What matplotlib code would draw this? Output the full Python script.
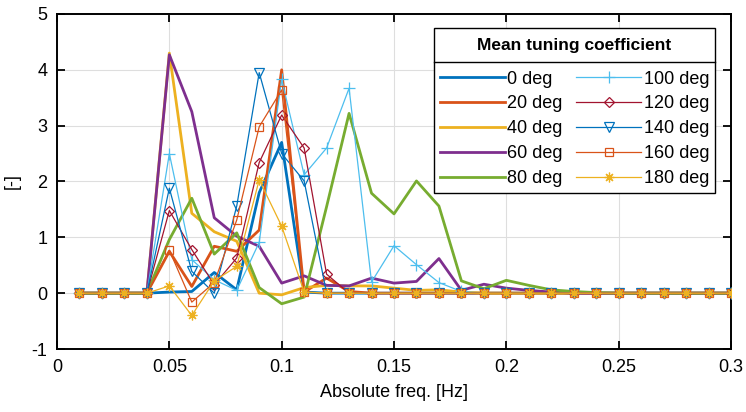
import matplotlib
matplotlib.use("Agg")
import matplotlib.pyplot as plt
from matplotlib.lines import Line2D
from matplotlib.offsetbox import PaddedBox
import numpy as np

plt.rcParams['font.family'] = ['Liberation Sans', 'DejaVu Sans']
plt.rcParams['axes.unicode_minus'] = False

freq = [0.01, 0.02, 0.03, 0.04, 0.05, 0.06, 0.07, 0.08, 0.09, 0.10,
        0.11, 0.12, 0.13, 0.14, 0.15, 0.16, 0.17, 0.18, 0.19, 0.20,
        0.21, 0.22, 0.23, 0.24, 0.25, 0.26, 0.27, 0.28, 0.29, 0.30]

labels = ['0 deg', '20 deg', '40 deg', '60 deg', '80 deg',
          '100 deg', '120 deg', '140 deg', '160 deg', '180 deg']

deg0   = [0, 0, 0, 0, 0.02, 0.03, 0.37, 0.06, 1.80, 2.70,
          0.02, 0, 0, 0, 0, 0, 0, 0, 0, 0, 0, 0, 0, 0, 0, 0, 0, 0, 0, 0]
deg20  = [0, 0, 0, 0, 0.75, 0.12, 0.84, 0.75, 1.13, 4.00,
          0.02, 0.27, 0.03, 0, 0, 0, 0, 0, 0, 0, 0, 0, 0, 0, 0, 0, 0, 0, 0, 0]
deg40  = [0, 0, 0, 0, 4.30, 1.43, 1.10, 0.93, 0.00, -0.03,
          0.10, 0.14, 0.13, 0.13, 0.09, 0.05, 0.06, 0.02, 0, 0, 0, 0, 0, 0, 0, 0, 0, 0, 0, 0]
deg60  = [0, 0, 0, 0, 4.27, 3.25, 1.35, 1.02, 0.84, 0.18,
          0.31, 0.14, 0.13, 0.27, 0.18, 0.21, 0.62, 0.05, 0.16, 0.09,
          0.05, 0.02, 0, 0, 0, 0, 0, 0, 0, 0]
deg80  = [0, 0, 0, 0, 0.96, 1.70, 0.70, 1.08, 0.10, -0.19,
          -0.07, 1.55, 3.22, 1.79, 1.42, 2.01, 1.56, 0.22, 0.08, 0.23,
          0.14, 0.06, 0.03, 0.01, 0, 0, 0, 0, 0, 0]
deg100 = [0, 0, 0, 0, 2.50, 0.60, 0.24, 0.05, 0.91, 3.83,
          2.12, 2.60, 3.67, 0.20, 0.85, 0.51, 0.19, 0.03, 0, 0, 0, 0, 0, 0, 0, 0, 0, 0, 0, 0]
deg120 = [0, 0, 0, 0, 1.48, 0.78, 0.15, 0.63, 2.34, 3.19,
          2.60, 0.34, 0.00, 0, 0, 0, 0, 0, 0, 0, 0, 0, 0, 0, 0, 0, 0, 0, 0, 0]
deg140 = [0, 0, 0, 0, 1.88, 0.39, 0.00, 1.56, 3.95, 2.50,
          2.01, 0.00, 0, 0, 0, 0, 0, 0, 0, 0, 0, 0, 0, 0, 0, 0, 0, 0, 0, 0]
deg160 = [0, 0, 0, 0, 0.77, -0.16, 0.19, 1.31, 2.98, 3.64,
          0.02, 0, 0, 0, 0, 0, 0, 0, 0, 0, 0, 0, 0, 0, 0, 0, 0, 0, 0, 0]
deg180 = [0, 0, 0, 0, 0.13, -0.40, 0.22, 0.48, 2.03, 1.20,
          0.02, 0, 0, 0, 0, 0, 0, 0, 0, 0, 0, 0, 0, 0, 0, 0, 0, 0, 0, 0]

xtick_vals = [0, 0.05, 0.1, 0.15, 0.2, 0.25, 0.3]
xtick_labels = ['0', '0.05', '0.1', '0.15', '0.2', '0.25', '0.3']
ytick_vals = [-1, 0, 1, 2, 3, 4, 5]
ytick_labels = ['-1', '0', '1', '2', '3', '4', '5']

series = [deg0, deg20, deg40, deg60, deg80, deg100, deg120, deg140, deg160, deg180]
colors = ['#0072BD', '#D95319', '#EDB120', '#7E2F8E', '#77AC30',
          '#4DBEEE', '#A2142F', '#0072BD', '#D95319', '#EDB120']
markers = [None, None, None, None, None, '+', 'D', 'v', 's', (8, 2, 0)]
msizes = [0, 0, 0, 0, 0, 8, 5.5, 6.5, 6, 7]

fig = plt.figure(figsize=(7.46, 4.12), dpi=100)
ax = fig.add_axes([57/746, 1-349/412, (731-57)/746, (349-14)/412])

for y, c, m, ms, lab in zip(series, colors, markers, msizes, labels):
    if m is None:
        ax.plot(freq, y, color=c, lw=2.0, label=lab, zorder=3)
    else:
        ax.plot(freq, y, color=c, lw=0.9, marker=m, ms=ms,
                mfc='none', mec=c, mew=0.9, label=lab, zorder=3)

ax.set_xlim(0, 0.3)
ax.set_ylim(-1, 5)
ax.set_xticks(xtick_vals)
ax.set_xticklabels(xtick_labels)
ax.set_yticks(ytick_vals)
ax.set_yticklabels(ytick_labels)
ax.grid(True, color='#dedede', lw=0.8, zorder=0)
ax.set_axisbelow(True)
ax.tick_params(direction='in', top=True, right=True, length=5.5, width=1.3,
               labelsize=13, pad=7)
for s in ax.spines.values():
    s.set_linewidth(1.4)
ax.set_xlabel('Absolute freq. [Hz]', fontsize=13, labelpad=6)
ax.set_ylabel('[-]', fontsize=13, labelpad=8)

leg = ax.legend(ncol=2, loc='upper right',
                bbox_to_anchor=((715-57)/674, (349-28.3)/335),
                borderaxespad=0, fontsize=13, fancybox=False, framealpha=1,
                edgecolor='black', handlelength=3.6, handletextpad=0.15,
                columnspacing=0.75, labelspacing=0.44, borderpad=0.3,
                title='Mean tuning coefficient',
                title_fontproperties={'weight': 'bold', 'size': 12.5})
leg.get_frame().set_linewidth(1.0)
leg.set_zorder(10)

# extra space around the legend title (MATLAB-style header)
try:
    tbox = leg._legend_box._children[0]
    pb = PaddedBox(tbox, pad=3.4, draw_frame=False)
    leg._legend_box._children[0] = pb
    leg._legend_box.sep = 8.9
except Exception:
    pass

fig.canvas.draw()
lb = leg.get_window_extent()
tb = leg.get_title().get_window_extent()
hb = leg._legend_handle_box.get_window_extent(fig.canvas.get_renderer())
ysep = (tb.y0 + hb.y1) / 2.0
inv = fig.transFigure.inverted()
x0, y0 = inv.transform((lb.x0, ysep))
x1, _ = inv.transform((lb.x1, ysep))
fig.add_artist(Line2D([x0, x1], [y0, y0], color='black', lw=1.0, zorder=20))

fig.savefig('out.png', dpi=100)
